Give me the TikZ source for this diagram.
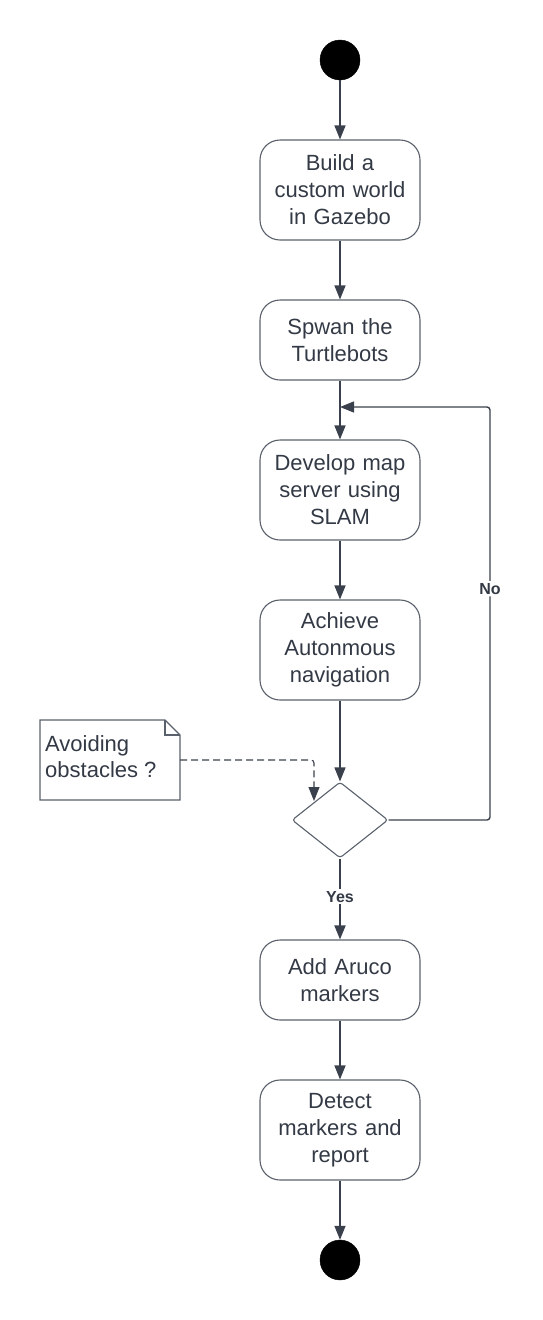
\documentclass[tikz,border=0pt]{standalone}
\usepackage{fontspec}
\setmainfont{Liberation Sans}
\usetikzlibrary{arrows.meta,shapes.geometric}
\definecolor{ink}{HTML}{333A45}
\definecolor{edge}{HTML}{3A414C}
\definecolor{border}{HTML}{5A616C}
\begin{document}
\begin{tikzpicture}[x=1pt,y=-1pt,
  stepbox/.style={draw=border,line width=1.1pt,rounded corners=20pt,minimum width=160pt,
    text width=150pt,align=center,text=ink,font=\fontsize{22}{27}\selectfont,inner sep=0pt},
  flow/.style={draw=edge,line width=1.4pt,-{Triangle[length=14pt,width=11pt]}},
  dot/.style={circle,fill=black,draw=black,minimum size=40pt,inner sep=0pt},
  lbl/.style={fill=white,text=ink,font=\fontsize{16}{18}\selectfont\bfseries,inner sep=2pt}]
\useasboundingbox (0,0) rectangle (542,1320);
\node[dot] (start) at (340,60) {};
\node[stepbox,minimum height=100pt] (b1) at (340,190) {Build a\\custom world\\in Gazebo};
\node[stepbox,minimum height=80pt] (b2) at (340,340) {Spwan the\\Turtlebots};
\node[stepbox,minimum height=100pt] (b3) at (340,490) {Develop map\\server using\\SLAM};
\node[stepbox,minimum height=100pt] (b4) at (340,650) {Achieve\\Autonmous\\navigation};
\node[diamond,draw=border,line width=1.1pt,rounded corners=3pt,minimum width=96pt,minimum height=76pt,inner sep=0pt] (d) at (340,820) {};
\node[stepbox,minimum height=80pt] (b5) at (340,980) {Add Aruco\\markers};
\node[stepbox,minimum height=100pt] (b6) at (340,1130) {Detect\\markers and\\report};
\node[dot] (end) at (340,1260) {};
% note
\draw[draw=border,line width=1.1pt,fill=white] (40,720) -- (165,720) -- (180,735) -- (180,800) -- (40,800) -- cycle;
\draw[draw=border,line width=1.1pt] (165,720) -- (165,735) -- (180,735);
\node[anchor=north west,text=ink,font=\fontsize{22}{26}\selectfont,align=left,inner sep=0pt] (note) at (45,735) {Avoiding\\obstacles ?};
\coordinate (noteout) at (180,760);
\coordinate (merge) at (340,407);
% flows
\draw[flow] (start) -- (b1);
\draw[flow] (b1) -- (b2);
\draw[flow] (b2) -- (b3);
\draw[flow] (b3) -- (b4);
\draw[flow] (b4) -- (d);
\draw[flow,line width=1.8pt] (d) -- node[lbl,pos=0.47] (yes) {Yes} (b5);
\draw[flow] (b5) -- (b6);
\draw[flow] (b6) -- (end);
\draw[flow,rounded corners=3pt] (d.east) -- (490,820) -- node[lbl,pos=0.56] (no) {No} (490,407) -- (merge);
\draw[flow,dashed,dash pattern=on 7pt off 4pt,line width=1.1pt,rounded corners=3pt] (noteout) -- (314,760) -- (314,801);
\end{tikzpicture}
\end{document}
